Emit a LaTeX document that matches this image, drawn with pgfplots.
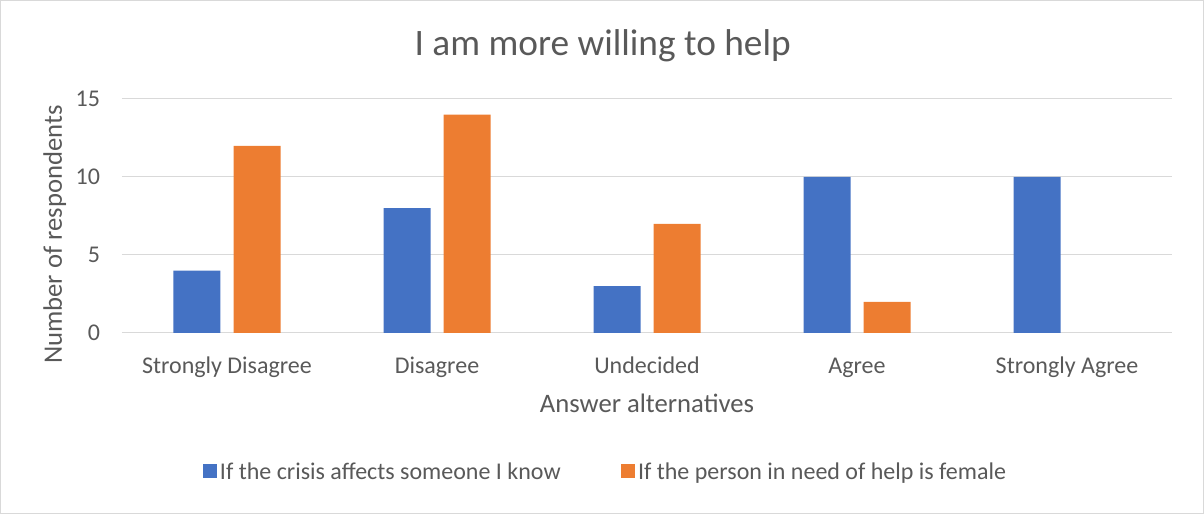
\documentclass[border=0pt]{standalone}
\usepackage{pgfplots}
\pgfplotsset{compat=1.18}
\usepackage{fontspec}
\setmainfont{Carlito}
\definecolor{cblue}{HTML}{4472C4}
\definecolor{corange}{HTML}{ED7D31}
\definecolor{cgrid}{HTML}{D9D9D9}
\definecolor{ctext}{HTML}{595959}
\begin{document}
\begin{tikzpicture}
\useasboundingbox (0,0) rectangle (903pt,385.5pt);
\draw[cgrid, line width=0.75pt] (0.4pt,0.4pt) rectangle (902.6pt,385.1pt);
\begin{axis}[
  at={(91.5pt,135.75pt)}, anchor=south west,
  scale only axis, width=787.5pt, height=175.5pt,
  xmin=-0.5, xmax=4.5, ymin=0, ymax=15,
  ytick={0,5,10,15},
  xtick={0,1,2,3,4},
  xticklabels={Strongly Disagree,Disagree,Undecided,Agree,Strongly Agree},
  ymajorgrids, grid style={cgrid, line width=0.75pt},
  axis x line*=bottom, axis y line*=left,
  x axis line style={cgrid, line width=0.75pt, -},
  y axis line style={draw=none},
  major tick length=0pt,
  tick label style={font=\fontsize{18}{21}\selectfont, text=ctext},
  /pgf/number format/assume math mode=true,
  xticklabel style={yshift=-14.5pt, text height=12pt, text depth=4pt},
  yticklabel style={xshift=-13pt},
  ylabel={Number of respondents},
  xlabel={Answer alternatives},
  label style={font=\fontsize{20}{24}\selectfont, text=ctext},
  ylabel style={at={(axis description cs:-0.064,0.42)}, anchor=center},
  xlabel style={at={(axis description cs:0.5,-0.299)}, anchor=center},
  ybar, bar width=35.25pt,
  legend columns=2,
  legend style={at={(axis description cs:0.461,-0.594)}, anchor=center, draw=none,
    font=\fontsize{18}{21}\selectfont, text=ctext,
    /tikz/every even column/.append style={column sep=43.5pt}},
  legend image code/.code={\fill[#1] (0pt,-4.5pt) rectangle (10.5pt,6pt);},
]
\addplot[fill=cblue, draw=none, bar shift=-22.5pt] coordinates {(0,4) (1,8) (2,3) (3,10) (4,10)};
\addplot[fill=corange, draw=none, bar shift=22.5pt] coordinates {(0,12) (1,14) (2,7) (3,2)};
\legend{If the crisis affects someone I know, If the person in need of help is female}
\end{axis}
\node[font=\fontsize{28}{33}\selectfont, text=ctext] at (452pt,351pt) {I am more willing to help};
\end{tikzpicture}
\end{document}
